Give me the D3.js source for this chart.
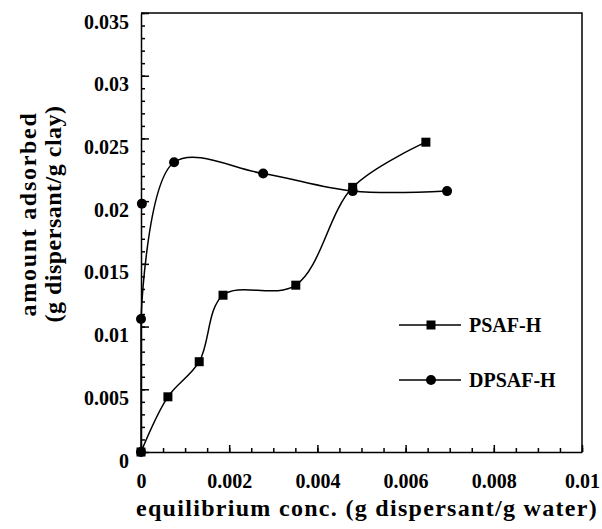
<!DOCTYPE html>
<html>
<head>
<meta charset="utf-8">
<script src="https://cdn.jsdelivr.net/npm/d3@7"></script>
<style>
    body { margin: 0; background: #fff; }
    svg text { font-family: "Liberation Serif", "DejaVu Serif", serif; font-weight: bold; fill: #000; }
</style>
</head>
<body>
<div id="chart"></div>
<script>
// Data
const psafX = [0, 0.00061, 0.00132, 0.00186, 0.00351, 0.0048, 0.00646];
const psafY = [0, 0.0044, 0.0072, 0.0125, 0.0133, 0.0211, 0.0247];
const dpsafX = [0, 0, 0.00002, 0.00075, 0.00277, 0.0048, 0.00694];
const dpsafY = [0, 0.0106, 0.0198, 0.0231, 0.0222, 0.0208, 0.0208];
// the fitted DPSAF-H curve passes to the right of its third point
const dpsafOnCurve = [true, true, false, true, true, true, true];
const seriesNames = ["PSAF-H", "DPSAF-H"];
const xTicks = [0, 0.002, 0.004, 0.006, 0.008, 0.01];
const yTicks = [0, 0.005, 0.01, 0.015, 0.02, 0.025, 0.03, 0.035];

const width = 602, height = 529;
const plotLeft = 141, plotRight = 582, plotTop = 13, plotBottom = 452;

const svg = d3.select("#chart").append("svg")
    .attr("width", width)
    .attr("height", height);

const x = d3.scaleLinear().domain([0, 0.01]).range([plotLeft, plotRight]);
const y = d3.scaleLinear().domain([0, 0.035]).range([plotBottom, plotTop]);

const fmt = d => d === 0 ? "0" : String(+d.toFixed(4));

// minor ticks first (inside)
svg.append("g")
    .attr("transform", `translate(0,${plotBottom})`)
    .call(d3.axisBottom(x).tickValues(d3.range(0, 0.01001, 0.0005)).tickSize(-4).tickSizeOuter(0).tickFormat(""))
    .call(g => g.select(".domain").remove());
svg.append("g")
    .attr("transform", `translate(${plotLeft},0)`)
    .call(d3.axisLeft(y).tickValues(d3.range(0, 0.03501, 0.001)).tickSize(-4).tickSizeOuter(0).tickFormat(""))
    .call(g => g.select(".domain").remove());

// major ticks and labels
const xAxis = svg.append("g")
    .attr("transform", `translate(0,${plotBottom})`)
    .call(d3.axisBottom(x).tickValues(xTicks).tickSize(-7).tickSizeOuter(0).tickFormat(fmt));
xAxis.selectAll("text")
    .attr("y", 36).attr("dy", null)
    .style("font-size", "20px");

const yAxis = svg.append("g")
    .attr("transform", `translate(${plotLeft},0)`)
    .call(d3.axisLeft(y).tickValues(yTicks).tickSize(-8).tickSizeOuter(0).tickFormat(fmt));
yAxis.selectAll("text")
    .attr("x", -12).attr("dy", null).attr("y", 15)
    .style("font-size", "20px");

svg.selectAll(".domain, .tick line").attr("stroke", "#000").attr("stroke-width", 1.5);

// frame top and right
svg.append("path")
    .attr("d", d3.line()([[x(0), y(0.035)], [x(0.01), y(0.035)], [x(0.01), y(0)]]))
    .attr("fill", "none")
    .attr("stroke", "#000")
    .attr("stroke-width", 1.5);

// axis titles
svg.append("text")
    .attr("x", 367).attr("y", 516)
    .attr("text-anchor", "middle")
    .style("font-size", "24px")
    .style("letter-spacing", "1.3px")
    .text("equilibrium conc. (g dispersant/g water)");

const yTitle = svg.append("g")
    .attr("transform", "translate(36,214) rotate(-90)");
yTitle.append("text")
    .attr("text-anchor", "middle")
    .style("font-size", "24px")
    .style("letter-spacing", "1.7px")
    .text("amount adsorbed");
yTitle.append("text")
    .attr("y", 25)
    .attr("text-anchor", "middle")
    .style("font-size", "24px")
    .style("letter-spacing", "0.5px")
    .text("(g dispersant/g clay)");

// curves
const line = d3.line()
    .x(d => x(d[0]))
    .y(d => y(d[1]))
    .curve(d3.curveCatmullRom.alpha(0.5));

const psaf = psafX.map((v, i) => [v, psafY[i]]);
const dpsaf = dpsafX.map((v, i) => [v, dpsafY[i]]);

// DPSAF-H climbs straight up the axis: doubling the corner point makes
// the Catmull-Rom curve keep that first stretch straight
const dpsafCurve = dpsaf.filter((d, i) => dpsafOnCurve[i]);
dpsafCurve.splice(1, 0, dpsafCurve[1]);

[psaf, dpsafCurve].forEach(pts => {
    svg.append("path")
        .datum(pts)
        .attr("d", line)
        .attr("fill", "none")
        .attr("stroke", "#000")
        .attr("stroke-width", 1.5);
});

svg.selectAll(".sq")
    .data(psaf)
    .enter().append("rect")
    .attr("x", d => x(d[0]) - 4.5)
    .attr("y", d => y(d[1]) - 4.5)
    .attr("width", 9)
    .attr("height", 9)
    .attr("fill", "#000");

svg.selectAll(".dot")
    .data(dpsaf)
    .enter().append("circle")
    .attr("cx", d => x(d[0]))
    .attr("cy", d => y(d[1]))
    .attr("r", 5)
    .attr("fill", "#000");

// legend
const legend = svg.append("g").attr("transform", "translate(399,325)");
seriesNames.forEach((name, i) => {
    const g = legend.append("g").attr("transform", `translate(0,${i * 55})`);
    g.append("line")
        .attr("x1", 0).attr("x2", 62)
        .attr("stroke", "#000").attr("stroke-width", 1.5);
    if (i === 0) {
        g.append("rect").attr("x", 27.5).attr("y", -4.5).attr("width", 9).attr("height", 9).attr("fill", "#000");
    } else {
        g.append("circle").attr("cx", 32).attr("r", 5).attr("fill", "#000");
    }
    g.append("text")
        .attr("x", 70).attr("y", 7)
        .style("font-size", "20px")
        .text(name);
});
</script>
</body>
</html>
